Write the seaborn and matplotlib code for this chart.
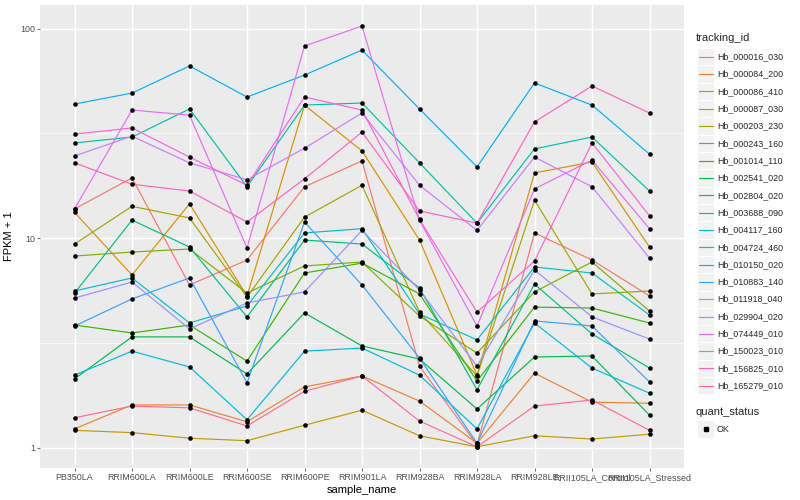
import numpy as np
import pandas as pd
import matplotlib
matplotlib.use("Agg")
import matplotlib.pyplot as plt
import seaborn as sns
from matplotlib.lines import Line2D
from matplotlib.patches import Rectangle
from matplotlib.ticker import FixedLocator, NullFormatter

# ---------------- data ----------------
samples = ["PB350LA", "RRIM600LA", "RRIM600LE", "RRIM600SE", "RRIM600PE",
           "RRIM901LA", "RRIM928BA", "RRIM928LA", "RRIM928LE",
           "RRII105LA_Control", "RRII105LA_Stressed"]

tracking_ids = ["Hb_000016_030", "Hb_000084_200", "Hb_000086_410", "Hb_000087_030",
                "Hb_000203_230", "Hb_000243_160", "Hb_001014_110", "Hb_002541_020",
                "Hb_002804_020", "Hb_003688_090", "Hb_004117_160", "Hb_004724_460",
                "Hb_010150_020", "Hb_010883_140", "Hb_011918_040", "Hb_029904_020",
                "Hb_074449_010", "Hb_150023_010", "Hb_156825_010", "Hb_165279_010"]

Hb_000016_030 = [13.8, 19.4, 5.98, 7.87, 17.6, 23.4, 2.45, 1.03, 10.6, 7.87, 5.30]
Hb_000084_200 = [1.23, 1.60, 1.60, 1.33, 1.95, 2.20, 1.67, 1.05, 2.27, 1.65, 1.63]
Hb_000086_410 = [13.3, 6.67, 14.6, 5.30, 43.2, 26.1, 9.8, 2.22, 20.5, 23.1, 9.08]
Hb_000087_030 = [1.21, 1.18, 1.11, 1.08, 1.28, 1.51, 1.14, 1.01, 1.14, 1.10, 1.16]
Hb_000203_230 = [9.38, 14.2, 12.5, 5.24, 12.6, 17.9, 4.44, 2.20, 15.2, 5.42, 5.60]
Hb_000243_160 = [8.22, 8.59, 8.88, 5.47, 7.37, 7.70, 4.25, 2.83, 5.54, 7.70, 4.49]
Hb_001014_110 = [3.85, 3.53, 3.85, 2.59, 6.82, 7.61, 5.42, 2.08, 4.69, 4.64, 3.94]
Hb_002541_020 = [2.13, 3.38, 3.38, 2.25, 4.40, 3.06, 2.65, 1.53, 2.71, 2.74, 1.43]
Hb_002804_020 = [5.47, 12.2, 9.08, 4.21, 9.8, 9.38, 5.79, 1.89, 6.04, 3.49, 2.40]
Hb_003688_090 = [28.5, 30.4, 41.4, 17.6, 43.2, 44.2, 22.9, 11.8, 26.7, 30.4, 16.8]
Hb_004117_160 = [5.60, 6.46, 3.94, 4.75, 10.6, 11.1, 4.35, 3.27, 7.29, 6.82, 4.30]
Hb_004724_460 = [2.22, 2.89, 2.43, 1.36, 2.89, 2.99, 2.22, 1.23, 3.94, 2.40, 1.82]
Hb_010150_020 = [43.7, 49.3, 66.4, 47.2, 60.1, 79.1, 41.4, 21.9, 55.1, 43.2, 25.2]
Hb_010883_140 = [3.81, 5.13, 6.46, 2.04, 11.95, 5.98, 2.68, 1.05, 4.03, 3.81, 2.06]
Hb_011918_040 = [5.18, 6.18, 3.69, 4.91, 5.54, 10.9, 5.66, 2.45, 7.05, 4.21, 3.30]
Hb_029904_020 = [24.7, 30.7, 22.9, 19.0, 26.9, 39.6, 17.9, 10.9, 24.4, 17.6, 8.04]
Hb_074449_010 = [13.8, 40.9, 38.7, 8.98, 82.7, 103.0, 12.2, 3.81, 17.2, 23.6, 11.1]
Hb_150023_010 = [31.4, 33.6, 24.4, 17.9, 47.2, 40.9, 12.3, 4.44, 7.78, 28.5, 12.8]
Hb_156825_010 = [22.9, 18.1, 16.8, 11.95, 19.2, 32.1, 13.5, 11.8, 35.9, 53.3, 39.6]
Hb_165279_010 = [1.39, 1.58, 1.55, 1.27, 1.86, 2.20, 1.34, 1.01, 1.58, 1.69, 1.21]

series_values = [Hb_000016_030, Hb_000084_200, Hb_000086_410, Hb_000087_030,
                 Hb_000203_230, Hb_000243_160, Hb_001014_110, Hb_002541_020,
                 Hb_002804_020, Hb_003688_090, Hb_004117_160, Hb_004724_460,
                 Hb_010150_020, Hb_010883_140, Hb_011918_040, Hb_029904_020,
                 Hb_074449_010, Hb_150023_010, Hb_156825_010, Hb_165279_010]

quant_status = ["OK"]
y_ticks = [1, 10, 100]
y_tick_labels = ["1", "10", "100"]

# ggplot2 default hue palette for 20 levels
hue_colors = ["#F8766D", "#EA8331", "#D89000", "#C09B00", "#A3A500", "#7CAE00",
              "#39B600", "#00BB4E", "#00BF7D", "#00C1A3", "#00BFC4", "#00BAE0",
              "#00B0F6", "#35A2FF", "#9590FF", "#C77CFF", "#E76BF3", "#FA62DB",
              "#FF62BC", "#FF6C91"]

rows = []
for tid, vals in zip(tracking_ids, series_values):
    for s, v in zip(samples, vals):
        rows.append({"tracking_id": tid, "sample_name": s, "fpkm1": v,
                     "quant_status": "OK"})
df = pd.DataFrame(rows)
df["sample_name"] = pd.Categorical(df["sample_name"], categories=samples, ordered=True)

# ---------------- figure ----------------
sns.set_style("white")
plt.rcParams["font.family"] = ["Liberation Sans", "DejaVu Sans"]

W, H = 800, 500
fig = plt.figure(figsize=(8, 5), dpi=100)
ax = fig.add_axes([40 / W, 1 - 468 / H, (684 - 40) / W, (468 - 5) / H])
ax.set_facecolor("#EBEBEB")

palette = dict(zip(tracking_ids, hue_colors))
sns.lineplot(data=df, x="sample_name", y="fpkm1", hue="tracking_id",
             hue_order=tracking_ids, palette=palette, linewidth=0.85,
             legend=False, ax=ax, sort=False, estimator=None, zorder=3)
sns.scatterplot(data=df, x="sample_name", y="fpkm1", color="black", s=11,
                marker="o", linewidth=0, legend=False, ax=ax, zorder=4)

ax.set_yscale("log")
ax.set_ylim(0.80, 129.8)
ax.set_xlim(-0.6, len(samples) - 1 + 0.6)
ax.set_yticks(y_ticks)
ax.set_yticklabels(y_tick_labels)
ax.yaxis.set_minor_locator(FixedLocator([10 ** -0.5, 10 ** 0.5, 10 ** 1.5]))
ax.yaxis.set_minor_formatter(NullFormatter())
ax.set_xticks(range(len(samples)))
ax.set_xticklabels(samples)

ax.grid(which="major", color="white", linewidth=1.05, zorder=0)
ax.grid(which="minor", axis="y", color="white", linewidth=0.5, zorder=0)
ax.set_axisbelow(True)
for sp in ax.spines.values():
    sp.set_visible(False)
ax.tick_params(axis="both", which="major", length=2.0, width=0.5, color="#333333",
               labelsize=6.4, labelcolor="#4D4D4D", pad=1.6, direction="out",
               bottom=True, left=True)
ax.tick_params(axis="y", which="minor", length=0)

ax.set_xlabel("sample_name", fontsize=8.0, color="black", labelpad=2)
ax.set_ylabel("FPKM + 1", fontsize=8.0, color="black", labelpad=4)

# ---------------- legend (ggplot style) ----------------
def fx(px):
    return px / W

def fy(py):
    return 1 - py / H

tr = fig.transFigure
fig.text(fx(696), fy(38), "tracking_id", fontsize=8.0, va="center", ha="left")
key_w = 17.3
y0 = 56.7
dy = 17.32
for i, (tid, col) in enumerate(zip(tracking_ids, hue_colors)):
    yc = y0 + i * dy
    fig.add_artist(Rectangle((fx(697), fy(yc + key_w / 2)), key_w / W, key_w / H,
                             transform=tr, facecolor="#F2F2F2", edgecolor="white",
                             linewidth=0.8))
    fig.add_artist(Line2D([fx(698.7), fx(712.6)], [fy(yc), fy(yc)], transform=tr,
                          color=col, linewidth=0.85))
    fig.text(fx(717), fy(yc), tid, fontsize=6.4, va="center", ha="left")

fig.text(fx(696), fy(412), "quant_status", fontsize=8.0, va="center", ha="left")
yc = 429
fig.add_artist(Rectangle((fx(697), fy(yc + key_w / 2)), key_w / W, key_w / H,
                         transform=tr, facecolor="#F2F2F2", edgecolor="white",
                         linewidth=0.8))
fig.add_artist(Line2D([fx(697 + key_w / 2)], [fy(yc)], transform=tr, marker="s",
                      markersize=2.6, color="black", linestyle="none"))
fig.text(fx(717), fy(yc), quant_status[0], fontsize=6.4, va="center", ha="left")

fig.savefig("out.png", dpi=100, facecolor="white")
